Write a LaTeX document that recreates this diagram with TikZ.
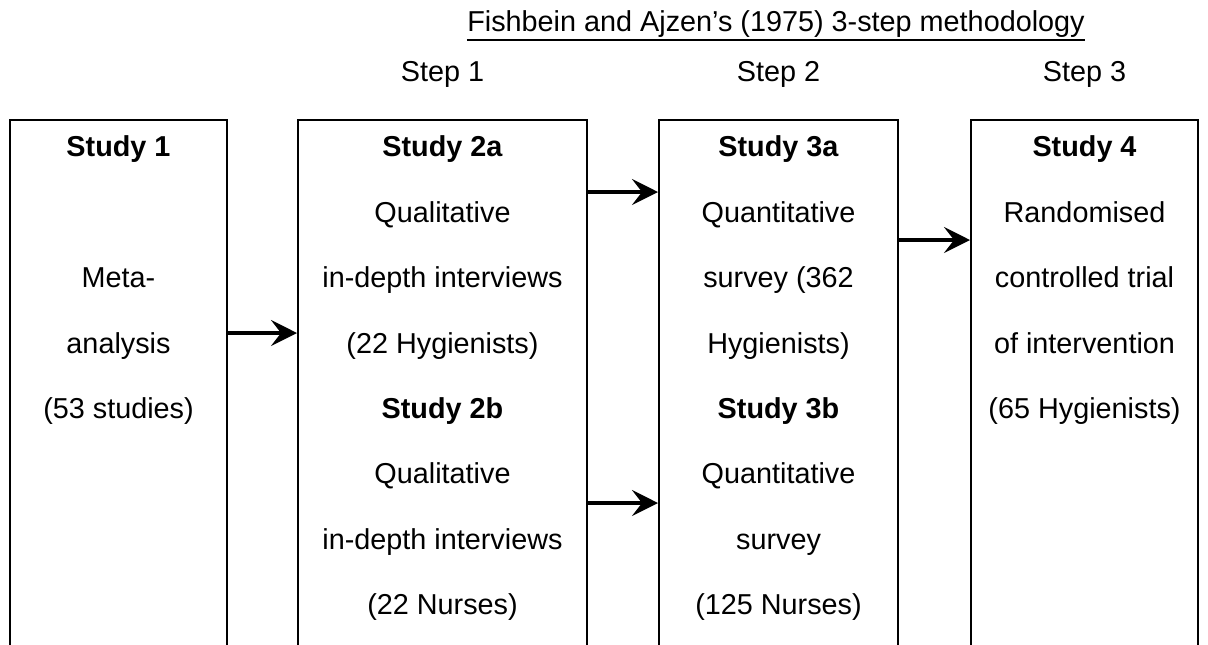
\documentclass[tikz,border=0pt]{standalone}
\usepackage{fontspec}
\setmainfont{Liberation Sans}
\usetikzlibrary{positioning, arrows.meta}

\begin{document}
\begin{tikzpicture}[x=0.5pt, y=-0.5pt, node distance=8.3pt,
    every node/.style={font=\fontsize{14.4}{32.7}\selectfont, inner sep=0pt},
    box/.style={draw, line width=1pt, minimum height=280pt, anchor=north},
    lines/.style={align=center, anchor=north},
    link/.style={-{Stealth[length=13pt, width=13pt, inset=5pt]}, line width=1.7pt},
]
\useasboundingbox (0,0) rectangle (1208,644);

% title
\node (title) [anchor=base] at (776,31) {Fishbein and Ajzen's (1975) 3-step methodology};
\draw[line width=1pt] ([yshift=-4.5pt]title.base west) -- ([yshift=-4.5pt]title.base east);

% boxes
\node (s1) [box, minimum width=108.5pt] at (118.5,119) {};
\node (s2) [box, minimum width=144.5pt] at (442.5,119) {};
\node (s3) [box, minimum width=119.5pt] at (778.5,119) {};
\node (s4) [box, minimum width=113.5pt] at (1084.5,119) {};

% step labels
\node (st1) [anchor=base] at (s2.north |- 0,81) {Step 1};
\node (st2) [anchor=base] at (s3.north |- 0,81) {Step 2};
\node (st3) [anchor=base] at (s4.north |- 0,81) {Step 3};

% box texts
\node (t1) [lines, below=of s1.north] {\textbf{Study 1}\\ ~\\ Meta-\\ analysis\\ (53 studies)};
\node (t2) [lines, below=of s2.north] {\textbf{Study 2a}\\ Qualitative\\ in-depth interviews\\ (22 Hygienists)\\
    \textbf{Study 2b}\\ Qualitative\\ in-depth interviews\\ (22 Nurses)};
\node (t3) [lines, below=of s3.north] {\textbf{Study 3a}\\ Quantitative\\ survey (362\\ Hygienists)\\
    \textbf{Study 3b}\\ Quantitative\\ survey\\ (125 Nurses)};
\node (t4) [lines, below=of s4.north] {\textbf{Study 4}\\ Randomised\\ controlled trial\\ of intervention\\ (65 Hygienists)};

% arrows
\coordinate (lvl1) at (0,333);
\coordinate (lvl2a) at (0,192);
\coordinate (lvl2b) at (0,503);
\coordinate (lvl3) at (0,240);
\draw[link] (s1.east |- lvl1) -- (s2.west |- lvl1);
\draw[link] (s2.east |- lvl2a) -- (s3.west |- lvl2a);
\draw[link] (s2.east |- lvl2b) -- (s3.west |- lvl2b);
\draw[link] (s3.east |- lvl3) -- (s4.west |- lvl3);
\end{tikzpicture}
\end{document}
